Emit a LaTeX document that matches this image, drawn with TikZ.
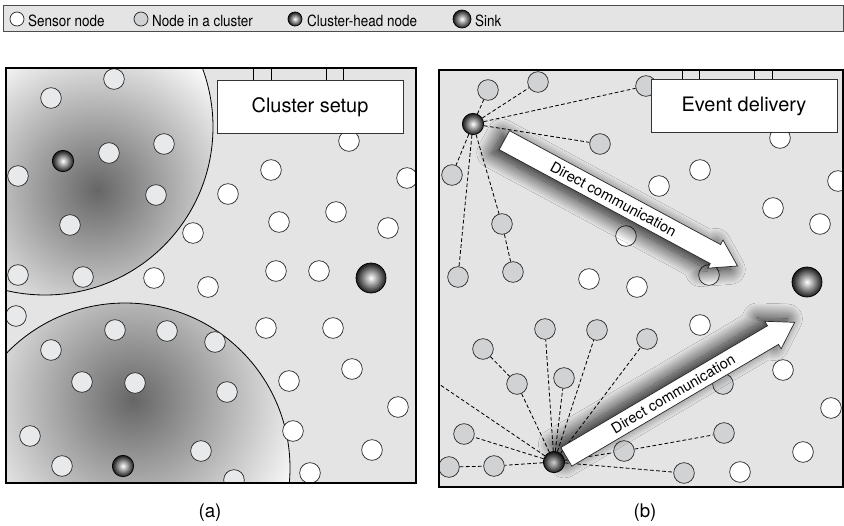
\documentclass[tikz,border=0pt]{standalone}
\usepackage{fontspec}
\setmainfont{TeX Gyre Heros}
\usetikzlibrary{shapes.arrows,shadows.blur}
\definecolor{panelbg}{HTML}{E4E4E4}
\definecolor{membera}{HTML}{E7E9EB}
\definecolor{memberb}{HTML}{D0D2D4}
\tikzset{
  sensornode/.style={circle, draw=black!85, line width=0.6pt, fill=white, minimum size=0.62cm, inner sep=0pt},
  memberanode/.style={sensornode, fill=membera},
  memberbnode/.style={sensornode, fill=memberb},
  headnode/.style={circle, draw=black, line width=0.6pt, inner color=white, outer color=black!90, minimum size=0.64cm, inner sep=0pt},
  sinknode/.style={headnode, minimum size=0.9cm},
  legendtext/.style={anchor=base west, inner sep=0pt, xscale=0.87, font=\fontsize{13.2}{15}\selectfont},
  titlebox/.style={draw=black!80, fill=white, line width=0.6pt, minimum width=5.58cm, minimum height=1.6cm, font=\fontsize{17}{20}\selectfont},
  link/.style={dash pattern=on 3.2pt off 2pt, line width=0.7pt},
  commarrow/.style={single arrow, draw=black!85, line width=0.6pt, fill=white, minimum height=7.95cm, minimum width=0.96cm,
    single arrow head extend=0.1cm, single arrow tip angle=65, inner sep=1pt, font=\fontsize{12.5}{14}\selectfont},
  arrowshadow/.style={blur shadow={shadow blur radius=0.45cm, shadow xshift=-0.22cm, shadow yshift=#1, shadow opacity=90, shadow blur steps=24}},
  sublabel/.style={font=\fontsize{16}{18}\selectfont}
}
\begin{document}
\begin{tikzpicture}[x=0.03cm, y=-0.03cm]
\useasboundingbox (0,0) rectangle (844,525);
% legend
\draw[fill=panelbg, draw=black!70, line width=0.8pt] (3,5) rectangle (843,31);
\node[sensornode, minimum size=0.42cm] (lsensor) at (17,19) {};
\node[legendtext] (lsensortext) at (28,26) {Sensor node};
\node[memberbnode, minimum size=0.42cm] (lmember) at (141,19) {};
\node[legendtext] (lmembertext) at (152,26) {Node in a cluster};
\node[headnode, minimum size=0.42cm] (lhead) at (295,19) {};
\node[legendtext] (lheadtext) at (307,26) {Cluster-head node};
\node[sinknode, minimum size=0.54cm] (lsink) at (462,19) {};
\node[legendtext] (lsinktext) at (475,26) {Sink};
% (a) cluster setup
\begin{scope}
\clip (6,68) rectangle (416,483);
\fill[panelbg] (6,68) rectangle (416,483);
\fill[white] (45,127) circle (168);
\begin{scope}
\clip (45,127) circle (168);
\shade[inner color=black!60, outer color=white] (97,190) circle (165);
\end{scope}
\draw[line width=0.7pt] (45,127) circle (168);
\fill[white] (125,468) circle (165);
\begin{scope}
\clip (125,468) circle (165);
\shade[inner color=black!60, outer color=white] (133,400) circle (185);
\end{scope}
\draw[line width=0.7pt] (125,468) circle (165);
\foreach \x/\y [count=\i] in {114/79, 51/98, 164/144, 109/153, 18/176, 156/195, 70/225, 18/275, 83/277,
  16/316, 115/330, 167/331, 51/350, 215/342, 82/382, 135/383, 227/392, 30/436, 62/466, 201/451, 234/480}
  \node[memberanode] (am\i) at (\x,\y) {};
\foreach \x/\y [count=\i] in {349/141, 271/170, 407/178, 228/194, 336/212, 279/222, 193/233, 388/228, 154/278, 208/287,
  276/271, 319/271, 266/328, 333/328, 352/369, 289/381, 398/407, 293/431, 372/450, 310/473}
  \node[sensornode] (as\i) at (\x,\y) {};
\node[headnode] (ah1) at (63,161) {};
\node[headnode] (ah2) at (123,466) {};
\node[sinknode] (asink) at (371,278) {};
\end{scope}
\draw[line width=0.9pt] (6,68) rectangle (416,483);
\draw[line width=0.6pt] (253,68) rectangle (271,80);
\draw[line width=0.6pt] (326,68) rectangle (343,80);
\node[titlebox] (asetup) at (310,107) {Cluster setup};
\node[sublabel] (alabel) at (210,513) {(a)};
% (b) event delivery
\begin{scope}
\clip (439,70) rectangle (843,487);
\fill[panelbg] (439,70) rectangle (843,487);
\foreach \x/\y [count=\i] in {780/138, 700/170, 838/181, 659/186, 773/208, 820/224, 626/236, 589/279, 637/287, 709/275,
  700/325, 783/370, 831/408, 803/452, 740/472}
  \node[sensornode] (bs\i) at (\x,\y) {};
\foreach \x/\y [count=\i] in {488/90, 538/82, 646/86, 600/144, 452/175, 502/224, 458/277, 513/272}
  \node[memberbnode] (bt\i) at (\x,\y) {};
\foreach \x/\y [count=\i] in {545/329, 597/330, 647/339, 483/349, 517/384, 564/378, 723/384, 464/434, 449/467, 494/466,
  624/451, 724/433, 684/473}
  \node[memberbnode] (bb\i) at (\x,\y) {};
\node[headnode] (bh1) at (473,124) {};
\node[headnode] (bh2) at (554,462) {};
\coordinate (bout) at (430,378);
\node[sinknode] (bsink) at (807,282) {};
% links to the cluster heads
\foreach \i in {1,...,7}
  \draw[link] (bh1) -- (bt\i);
\draw[link] (bt6) -- (bt8);
\foreach \i in {1,2,3,5,6,8,10,11,13}
  \draw[link] (bh2) -- (bb\i);
\draw[link] (bb4) -- (bb5);
\draw[link] (bb9) -- (bb10);
\draw[link] (bb11) -- (bb12);
\draw[link] (bh2) -- (bout);
\node[commarrow, arrowshadow=-0.1cm, rotate=-28.35, anchor=tail] (arrtop) at (504,140) {Direct communication};
\node[commarrow, arrowshadow=0.1cm, rotate=30.5, anchor=tail] (arrbottom) at (566,457) {Direct communication};
\end{scope}
\draw[line width=0.9pt] (439,70) rectangle (843,487);
\draw[line width=0.6pt] (682,70) rectangle (699,80);
\draw[line width=0.6pt] (754,70) rectangle (772,80);
\node[titlebox] (bdelivery) at (744,106) {Event delivery};
\node[sublabel] (blabel) at (645,513) {(b)};
\end{tikzpicture}
\end{document}
